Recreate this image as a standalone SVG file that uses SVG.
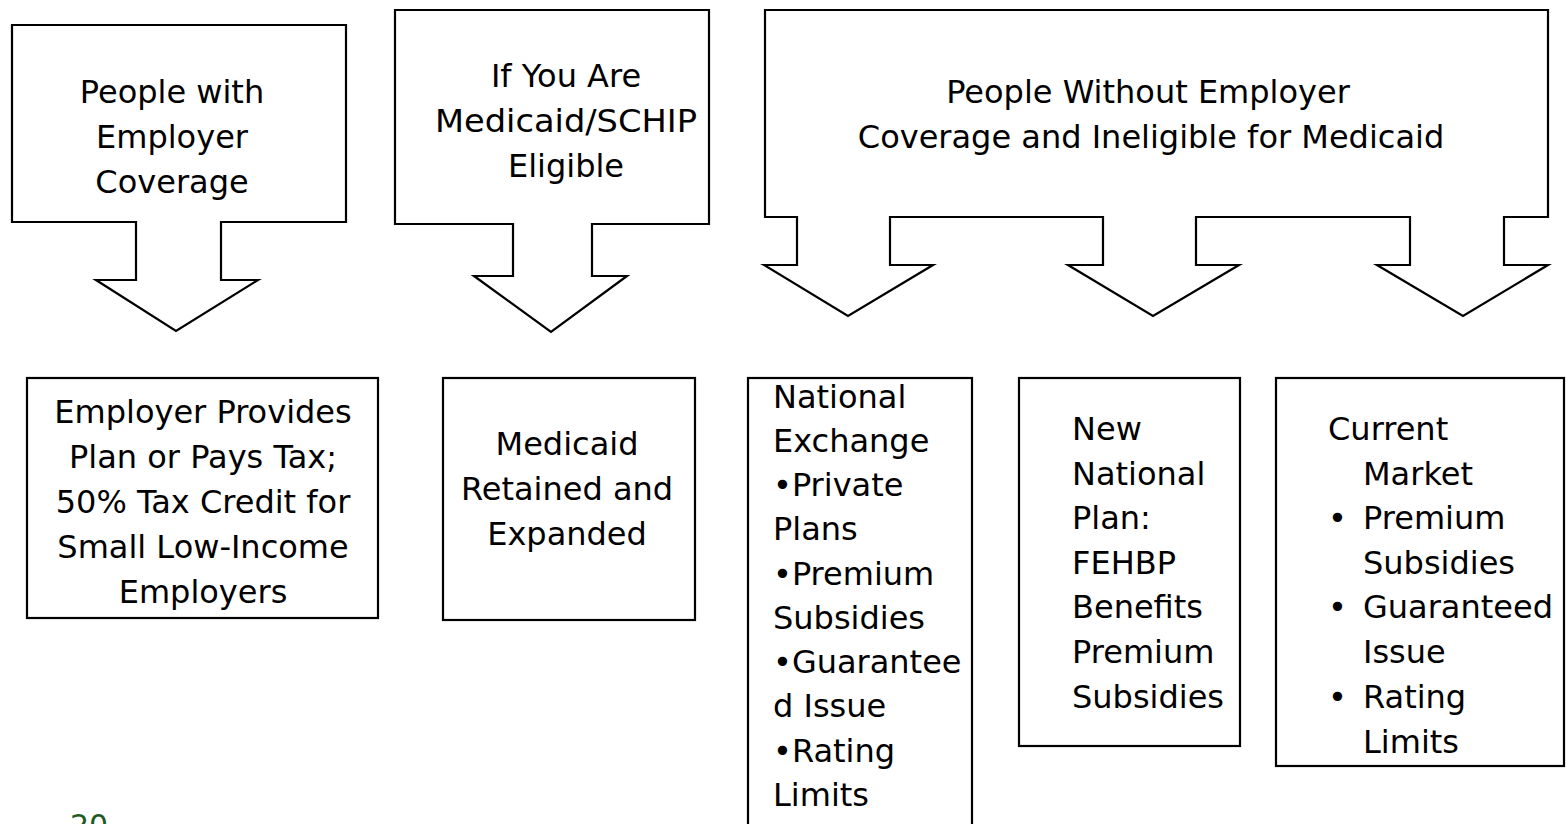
<svg xmlns="http://www.w3.org/2000/svg" width="1566" height="824" viewBox="0 0 1566 824">
<style>
.shape{fill:#fff;stroke:#000;stroke-width:2.2;stroke-linejoin:miter}
text{font-family:"DejaVu Sans","Liberation Sans",sans-serif;font-size:32px;fill:#000}
.c{text-anchor:middle}
.pg{font-size:30px;fill:#1E5B1E}
</style>
<rect width="1566" height="824" fill="#fff"/>
<g id="connectors"></g>
<g id="arrow-employer">
<path class="shape" d="M12,25 H346 V222 H221 V280 H258 L176,331 L96,280 H136 V222 H12 Z"/>
<text class="c" x="172" y="103">People with</text>
<text class="c" x="172" y="148">Employer</text>
<text class="c" x="172" y="193">Coverage</text>
</g>
<g id="arrow-medicaid">
<path class="shape" d="M395,10 H709 V224 H592 V276 H627 L551,332 L474,276 H513 V224 H395 Z"/>
<text class="c" x="566" y="87">If You Are</text>
<text class="c" x="566" y="132" textLength="262" lengthAdjust="spacingAndGlyphs">Medicaid/SCHIP</text>
<text class="c" x="566" y="177">Eligible</text>
</g>
<g id="arrow-without">
<path class="shape" d="M765,10 H1548 V217 H1504 V265 H1548 L1463,316 L1377,265 H1410 V217 H1196 V265 H1239 L1153,316 L1068,265 H1103 V217 H890 V265 H933 L848,316 L764,265 H797 V217 H765 Z"/>
<text class="c" x="1148" y="103">People Without Employer</text>
<text class="c" x="1151" y="148">Coverage and Ineligible for Medicaid</text>
</g>
<g id="box-employer">
<rect class="shape" x="27" y="378" width="351" height="240"/>
<text class="c" x="203" y="423">Employer Provides</text>
<text class="c" x="203" y="468">Plan or Pays Tax;</text>
<text class="c" x="203" y="513">50% Tax Credit for</text>
<text class="c" x="203" y="558">Small Low-Income</text>
<text class="c" x="203" y="603">Employers</text>
</g>
<g id="box-medicaid">
<rect class="shape" x="443" y="378" width="252" height="242"/>
<text class="c" x="567" y="455">Medicaid</text>
<text class="c" x="567" y="500">Retained and</text>
<text class="c" x="567" y="545">Expanded</text>
</g>
<g id="box-exchange">
<rect class="shape" x="748" y="378" width="224" height="460"/>
<text x="773" y="408">National</text>
<text x="773" y="452">Exchange</text>
<text x="773" y="496">•Private</text>
<text x="773" y="540">Plans</text>
<text x="773" y="585">•Premium</text>
<text x="773" y="629">Subsidies</text>
<text x="773" y="673">•Guarantee</text>
<text x="773" y="717">d Issue</text>
<text x="773" y="762">•Rating</text>
<text x="773" y="806">Limits</text>
</g>
<g id="box-national-plan">
<rect class="shape" x="1019" y="378" width="221" height="368"/>
<text x="1072" y="440">New</text>
<text x="1072" y="485">National</text>
<text x="1072" y="529">Plan:</text>
<text x="1072" y="574">FEHBP</text>
<text x="1072" y="618">Benefits</text>
<text x="1072" y="663">Premium</text>
<text x="1072" y="708">Subsidies</text>
</g>
<g id="box-current-market">
<rect class="shape" x="1276" y="378" width="288" height="388"/>
<text x="1328" y="440">Current</text>
<text x="1363" y="485">Market</text>
<text x="1328" y="529">•</text>
<text x="1363" y="529">Premium</text>
<text x="1363" y="574">Subsidies</text>
<text x="1328" y="618">•</text>
<text x="1363" y="618">Guaranteed</text>
<text x="1363" y="663">Issue</text>
<text x="1328" y="708">•</text>
<text x="1363" y="708">Rating</text>
<text x="1363" y="753">Limits</text>
</g>
<g id="page-number">
<text class="pg" x="70" y="836">20</text>
</g>
</svg>
